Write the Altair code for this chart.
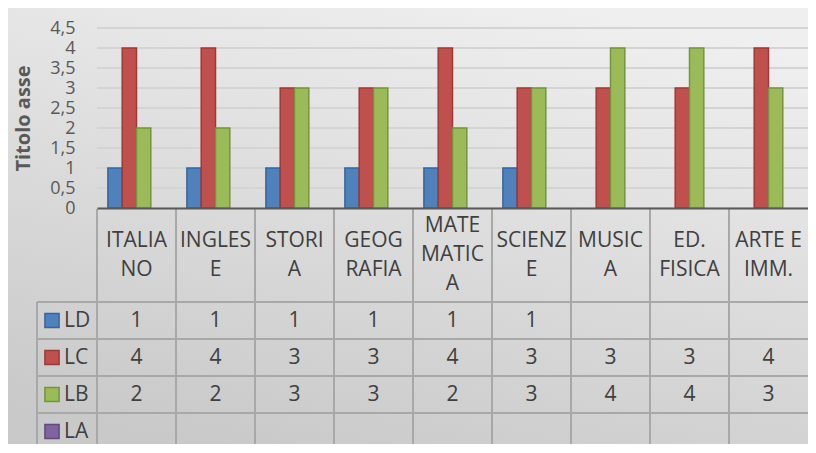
import altair as alt
import pandas as pd

# ---- data ----
categories = ["ITALIANO", "INGLESE", "STORIA", "GEOGRAFIA", "MATEMATICA",
              "SCIENZE", "MUSICA", "ED. FISICA", "ARTE E IMM."]
header_labels = ["ITALIA\nNO", "INGLES\nE", "STORI\nA", "GEOG\nRAFIA", "MATE\nMATIC\nA",
                 "SCIENZ\nE", "MUSIC\nA", "ED.\nFISICA", "ARTE E\nIMM."]
series = ["LD", "LC", "LB", "LA"]
LD = [1, 1, 1, 1, 1, 1, None, None, None]
LC = [4, 4, 3, 3, 4, 3, 3, 3, 4]
LB = [2, 2, 3, 3, 2, 3, 4, 4, 3]
LA = [None, None, None, None, None, None, None, None, None]
y_ticks = [0, 0.5, 1, 1.5, 2, 2.5, 3, 3.5, 4, 4.5]
fill_colors = ["#4f81bd", "#c0504d", "#9bbb59", "#8064a2"]
stroke_colors = ["#3a6597", "#9b3a37", "#779243", "#5f4a7b"]
axis_title = "Titolo asse"

rows = []
for s, vals in zip(series, [LD, LC, LB, LA]):
    for c, v in zip(categories, vals):
        rows.append({"cat": c, "series": s, "value": v})
long_df = pd.DataFrame(rows)

# header labels split into lines; slot = line index relative to the centre of the block
head_rows = []
for c, lab in zip(categories, header_labels):
    parts = lab.split("\n")
    n = len(parts)
    for i, p in enumerate(parts):
        head_rows.append({"cat": c, "line": p, "slot": i - (n - 1) / 2})
header_df = pd.DataFrame(head_rows)
cat_df = pd.DataFrame({"cat": categories})
series_df = pd.DataFrame({"series": series})
ticks_df = pd.DataFrame({"v": y_ticks})
one = pd.DataFrame({"a": [0]})

W, H = 711, 180
PAD_L, PAD_T = 89, 20
TABLE_TOP, ROW_H = 274, 37
TABLE_BOTTOM = TABLE_TOP + 4 * ROW_H
VIEW_BOTTOM = 416
HEAD_MID = (H + TABLE_TOP) / 2
LINE_H = 29
FONT = "Open Sans"

def x_cell(**kw):
    return alt.X("cat:N", scale=alt.Scale(domain=categories, paddingInner=0, paddingOuter=0),
                 axis=None, **kw)

def y_row(**kw):
    return alt.Y("series:N", scale=alt.Scale(domain=series, range=[TABLE_TOP, TABLE_BOTTOM],
                                             paddingInner=0, paddingOuter=0),
                 axis=None, **kw)

fill_enc = alt.Fill("series:N", scale=alt.Scale(domain=series, range=fill_colors), legend=None)
stroke_enc = alt.Stroke("series:N", scale=alt.Scale(domain=series, range=stroke_colors), legend=None)

bg = alt.Chart(one).mark_rect(
    fill=alt.Gradient(gradient="linear",
                      stops=[alt.GradientStop(color="#efefef", offset=0),
                             alt.GradientStop(color="#c9c9c9", offset=1)],
                      x1=0.7, y1=0, x2=0.3, y2=1)
).encode(x=alt.value(-PAD_L), x2=alt.value(W + 10), y=alt.value(-PAD_T), y2=alt.value(VIEW_BOTTOM + 10))

grid = alt.Chart(ticks_df).mark_rule(color="#d4d4d4", strokeWidth=2).encode(
    y=alt.Y("v:Q", scale=alt.Scale(domain=[0, 4.5]), axis=None),
    x=alt.value(0), x2=alt.value(W))

bars = alt.Chart(long_df).transform_filter("isValid(datum.value)").mark_bar(strokeWidth=1.5).encode(
    x=alt.X("cat:N", scale=alt.Scale(domain=categories, paddingInner=0.276, paddingOuter=0.138),
            axis=alt.Axis(labels=False, ticks=False, title=None, domain=True, domainColor="#595959",
                          domainWidth=2, grid=False, zindex=1)),
    xOffset=alt.XOffset("series:N", scale=alt.Scale(domain=series, paddingInner=0, paddingOuter=0)),
    y=alt.Y("value:Q", scale=alt.Scale(domain=[0, 4.5]),
            axis=alt.Axis(values=y_ticks, labelExpr="replace(format(datum.value, '.1~f'), '.', ',')",
                          title=axis_title, grid=False, domain=False, ticks=False, tickSize=0,
                          labelPadding=22, labelFontSize=18, labelColor="#595959", labelFont=FONT,
                          labelOverlap=False, labelBaseline="middle",
                          titleFontSize=20, titleFontWeight="bold", titleColor="#595959", titleFont=FONT,
                          titleX=-74, titleY=H / 2, titleAngle=270, titleAlign="center",
                          titleBaseline="middle", zindex=1)),
    fill=fill_enc, stroke=stroke_enc)

line_color = "#a8a8a8"
vlines = alt.Chart(cat_df).mark_rule(color=line_color, strokeWidth=2).encode(
    x=x_cell(bandPosition=0), y=alt.value(H + 1), y2=alt.value(TABLE_BOTTOM))
vline_left = alt.Chart(one).mark_rule(color=line_color, strokeWidth=2).encode(
    x=alt.value(-60), y=alt.value(TABLE_TOP), y2=alt.value(TABLE_BOTTOM))
hlines = alt.Chart(series_df).mark_rule(color=line_color, strokeWidth=2).encode(
    y=y_row(bandPosition=0), x=alt.value(-60), x2=alt.value(W))

header_text = alt.Chart(header_df).mark_text(
    fontSize=21, font=FONT, color="#404040", baseline="middle"
).encode(
    x=x_cell(),
    y=alt.Y("slot:O", scale=alt.Scale(type="point", domain=[-1, -0.5, 0, 0.5, 1],
                                       range=[HEAD_MID - LINE_H, HEAD_MID + LINE_H], padding=0),
            axis=None),
    text="line:N")

value_text = alt.Chart(long_df).transform_filter("isValid(datum.value)").mark_text(
    fontSize=21, font=FONT, color="#404040", baseline="middle"
).encode(x=x_cell(), y=y_row(), text=alt.Text("value:Q", format="d"))

legend_sq = alt.Chart(series_df).mark_square(size=200, strokeWidth=1.5, opacity=1).encode(
    x=alt.value(-45), y=y_row(), fill=fill_enc, stroke=stroke_enc)

legend_txt = alt.Chart(series_df).mark_text(
    align="left", baseline="middle", fontSize=21, font=FONT, color="#404040"
).encode(x=alt.value(-33), y=y_row(), text="series:N")

chart = alt.layer(bg, grid, bars, vlines, vline_left, hlines,
                  header_text, value_text, legend_sq, legend_txt).resolve_scale(
    x="independent", y="independent", fill="shared", stroke="shared"
).properties(
    width=W, height=H,
    autosize=alt.AutoSizeParams(type="none"),
    padding={"left": PAD_L, "top": PAD_T, "right": 0, "bottom": VIEW_BOTTOM - H}
).configure_view(stroke=None)

chart.save("out.html", embed_options={"renderer": "svg", "actions": False})
